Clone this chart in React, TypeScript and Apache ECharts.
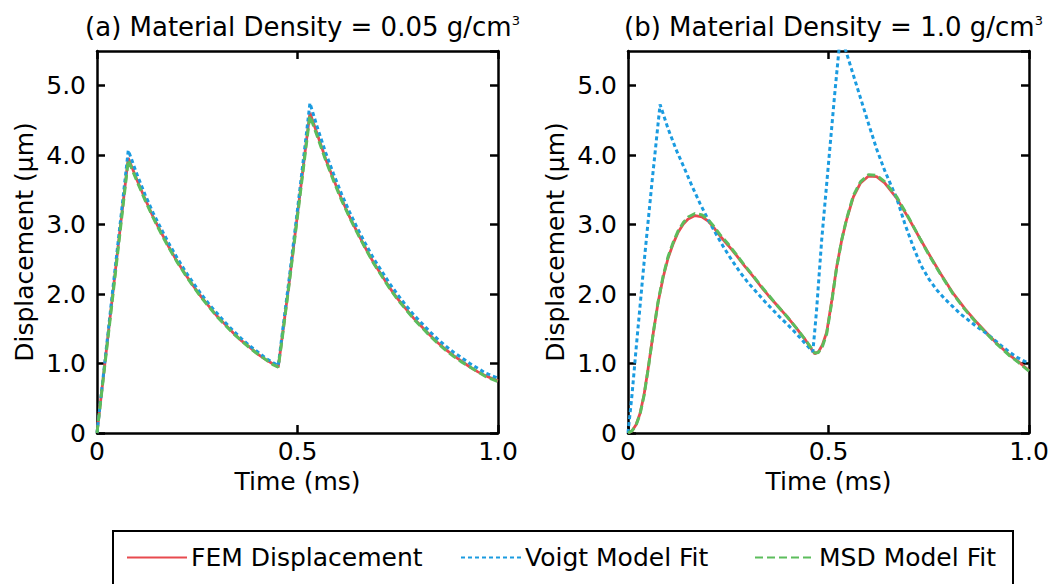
import React, { useEffect, useRef } from "react";
import * as echarts from "echarts";

// ---- data (time in ms, displacement in µm) ----
const femA: [number, number][] = [[0,0],[0.02,1.02],[0.04,2.04],[0.06,3.06],[0.078,3.96],[0.10,3.64],[0.12,3.37],[0.14,3.11],[0.16,2.89],[0.18,2.67],[0.20,2.47],[0.22,2.29],[0.24,2.12],[0.26,1.96],[0.28,1.82],[0.30,1.68],[0.32,1.56],[0.34,1.44],[0.36,1.33],[0.38,1.24],[0.40,1.14],[0.42,1.06],[0.44,0.99],[0.452,0.95],[0.46,1.30],[0.48,2.20],[0.50,3.15],[0.52,4.10],[0.531,4.61],[0.55,4.29],[0.57,3.95],[0.59,3.65],[0.61,3.37],[0.63,3.11],[0.65,2.88],[0.67,2.66],[0.69,2.45],[0.71,2.27],[0.73,2.09],[0.75,1.93],[0.77,1.79],[0.79,1.65],[0.81,1.53],[0.83,1.41],[0.85,1.30],[0.87,1.20],[0.89,1.11],[0.91,1.03],[0.93,0.95],[0.95,0.88],[0.97,0.82],[1.0,0.75]];
const voigtA: [number, number][] = [[0,0],[0.02,1.05],[0.04,2.10],[0.06,3.13],[0.078,4.07],[0.10,3.72],[0.12,3.43],[0.14,3.17],[0.16,2.94],[0.18,2.72],[0.20,2.52],[0.22,2.33],[0.24,2.16],[0.26,2.00],[0.28,1.85],[0.30,1.72],[0.32,1.59],[0.34,1.47],[0.36,1.36],[0.38,1.26],[0.40,1.17],[0.42,1.08],[0.44,1.01],[0.452,0.97],[0.46,1.34],[0.48,2.26],[0.50,3.22],[0.52,4.20],[0.531,4.75],[0.55,4.39],[0.57,4.04],[0.59,3.73],[0.61,3.44],[0.63,3.18],[0.65,2.94],[0.67,2.72],[0.69,2.51],[0.71,2.33],[0.73,2.15],[0.75,1.99],[0.77,1.84],[0.79,1.70],[0.81,1.58],[0.83,1.46],[0.85,1.35],[0.87,1.25],[0.89,1.16],[0.91,1.08],[0.93,1.00],[0.95,0.93],[0.97,0.86],[1.0,0.79]];
const msdA: [number, number][] = [[0,0],[0.02,1.0],[0.04,2.0],[0.06,3.02],[0.078,3.93],[0.10,3.62],[0.12,3.35],[0.14,3.10],[0.16,2.87],[0.18,2.66],[0.20,2.46],[0.22,2.28],[0.24,2.11],[0.26,1.95],[0.28,1.81],[0.30,1.67],[0.32,1.55],[0.34,1.43],[0.36,1.33],[0.38,1.23],[0.40,1.14],[0.42,1.06],[0.44,0.98],[0.452,0.95],[0.46,1.28],[0.48,2.18],[0.50,3.12],[0.52,4.06],[0.531,4.57],[0.55,4.26],[0.57,3.93],[0.59,3.63],[0.61,3.35],[0.63,3.10],[0.65,2.87],[0.67,2.65],[0.69,2.44],[0.71,2.26],[0.73,2.08],[0.75,1.92],[0.77,1.78],[0.79,1.64],[0.81,1.52],[0.83,1.40],[0.85,1.29],[0.87,1.19],[0.89,1.10],[0.91,1.02],[0.93,0.95],[0.95,0.88],[0.97,0.81],[1.0,0.74]];

const femB: [number, number][] = [[0,0],[0.01,0.03],[0.02,0.12],[0.03,0.28],[0.04,0.55],[0.05,0.92],[0.063,1.44],[0.075,1.88],[0.088,2.25],[0.10,2.52],[0.113,2.73],[0.125,2.89],[0.138,3.01],[0.15,3.08],[0.167,3.13],[0.185,3.11],[0.20,3.05],[0.215,2.95],[0.229,2.84],[0.25,2.70],[0.27,2.56],[0.29,2.41],[0.3125,2.25],[0.33,2.12],[0.35,1.98],[0.37,1.85],[0.396,1.68],[0.42,1.51],[0.44,1.36],[0.455,1.23],[0.466,1.14],[0.475,1.17],[0.485,1.27],[0.4955,1.45],[0.508,1.90],[0.52,2.38],[0.533,2.78],[0.545,3.07],[0.562,3.40],[0.58,3.60],[0.60,3.70],[0.62,3.69],[0.64,3.60],[0.67,3.38],[0.70,3.09],[0.728,2.80],[0.75,2.58],[0.78,2.29],[0.811,2.01],[0.84,1.79],[0.87,1.59],[0.8945,1.44],[0.92,1.29],[0.95,1.13],[0.975,1.02],[1.0,0.90]];
const voigtB: [number, number][] = [[0,0],[0.01,0.55],[0.02,1.2],[0.04,2.45],[0.06,3.62],[0.08,4.73],[0.10,4.38],[0.12,4.08],[0.14,3.82],[0.16,3.55],[0.18,3.30],[0.20,3.07],[0.22,2.86],[0.24,2.66],[0.26,2.48],[0.28,2.31],[0.30,2.16],[0.32,2.03],[0.34,1.90],[0.36,1.78],[0.38,1.66],[0.40,1.55],[0.42,1.43],[0.44,1.30],[0.461,1.17],[0.47,1.75],[0.483,2.78],[0.50,3.88],[0.515,4.85],[0.530,5.75],[0.545,5.47],[0.56,5.19],[0.58,4.82],[0.60,4.45],[0.62,4.09],[0.64,3.78],[0.67,3.38],[0.69,3.02],[0.71,2.70],[0.73,2.42],[0.75,2.22],[0.77,2.06],[0.79,1.93],[0.81,1.82],[0.83,1.71],[0.85,1.62],[0.87,1.53],[0.89,1.45],[0.91,1.36],[0.93,1.26],[0.95,1.17],[0.97,1.09],[1.0,1.0]];
const msdB: [number, number][] = [[0,0],[0.01,0.03],[0.02,0.11],[0.03,0.27],[0.04,0.54],[0.05,0.91],[0.063,1.44],[0.075,1.89],[0.088,2.27],[0.10,2.54],[0.113,2.75],[0.125,2.91],[0.138,3.03],[0.15,3.11],[0.167,3.16],[0.185,3.14],[0.20,3.07],[0.215,2.97],[0.229,2.86],[0.25,2.72],[0.27,2.57],[0.29,2.42],[0.3125,2.26],[0.33,2.13],[0.35,1.99],[0.37,1.85],[0.396,1.68],[0.42,1.51],[0.44,1.36],[0.455,1.24],[0.466,1.15],[0.475,1.16],[0.485,1.25],[0.4955,1.43],[0.508,1.88],[0.52,2.37],[0.533,2.78],[0.545,3.08],[0.562,3.42],[0.58,3.62],[0.60,3.72],[0.62,3.71],[0.64,3.62],[0.67,3.40],[0.70,3.10],[0.728,2.80],[0.75,2.57],[0.78,2.28],[0.811,2.00],[0.84,1.78],[0.87,1.58],[0.8945,1.43],[0.92,1.28],[0.95,1.12],[0.975,1.01],[1.0,0.89]];

const seriesNames = ["FEM Displacement", "Voigt Model Fit", "MSD Model Fit"];
const panelTitles = ["(a) Material Density = 0.05 g/cm", "(b) Material Density = 1.0 g/cm"];
const xTicks = { min: 0, max: 1, interval: 0.5 };
const yTicks = { min: 0, max: 5.5, interval: 1 };
const xName = "Time (ms)";
const yName = "Displacement (μm)";

const FONT = "DejaVu Sans";
const RED = "#e84a4f";
const BLUE = "#1a9be0";
const GREEN = "#5cbd5c";

export default function App() {
  const ref = useRef<HTMLDivElement>(null);
  useEffect(() => {
    if (!ref.current) return;
    const chart = echarts.init(ref.current, undefined, { renderer: "svg" });
    const grids = [
      { left: 97, top: 51, width: 401, height: 382 },
      { left: 628, top: 51, width: 401, height: 382 },
    ];
    const line = { lineStyle: { color: "#000", width: 2.5 } };
    const tick = { show: true, inside: true, length: 8, lineStyle: { color: "#000", width: 2.5 } };
    const xFmt = (v: number) => (v === 0 ? "0" : v.toFixed(1));
    const yFmt = (v: number) => (v === 0 ? "0" : Math.abs(v - Math.round(v)) < 1e-9 ? v.toFixed(1) : "");
    const xAxis: any[] = [];
    const yAxis: any[] = [];
    grids.forEach((_, g) => {
      xAxis.push({
        type: "value", gridIndex: g, position: "bottom", ...xTicks,
        axisLine: { ...line, onZero: false }, axisTick: tick, splitLine: { show: false },
        axisLabel: { formatter: xFmt, fontSize: 25, fontFamily: FONT, color: "#000", margin: 6 },
        name: xName, nameLocation: "middle", nameGap: 32,
        nameTextStyle: { fontSize: 25, fontFamily: FONT, color: "#000" },
      });
      xAxis.push({
        type: "value", gridIndex: g, position: "top", ...xTicks,
        axisLine: { ...line, onZero: false }, axisTick: tick, splitLine: { show: false },
        axisLabel: { show: false },
      });
      yAxis.push({
        type: "value", gridIndex: g, position: "left", ...yTicks,
        axisLine: { ...line, onZero: false }, axisTick: tick, splitLine: { show: false },
        axisLabel: { formatter: yFmt, fontSize: 25, fontFamily: FONT, color: "#000", margin: 11, showMaxLabel: false },
        name: yName, nameLocation: "middle", nameGap: 60,
        nameTextStyle: { fontSize: 25, fontFamily: FONT, color: "#000" },
      });
      yAxis.push({
        type: "value", gridIndex: g, position: "right", ...yTicks,
        axisLine: { ...line, onZero: false }, axisTick: tick, splitLine: { show: false },
        axisLabel: { show: false },
      });
    });
    const mk = (name: string, data: [number, number][], g: number, color: string, type: any, width: number, z: number) => ({
      name, type: "line", data, xAxisIndex: g * 2, yAxisIndex: g * 2,
      symbol: "none", showSymbol: false, smooth: false, clip: true, z,
      lineStyle: { color, width, type, cap: "butt" },
      itemStyle: { color },
    });
    const series = [
      mk(seriesNames[0], femA, 0, RED, "solid", 2.8, 2),
      mk(seriesNames[1], voigtA, 0, BLUE, [4, 3], 3, 3),
      mk(seriesNames[2], msdA, 0, GREEN, [8, 4], 3, 4),
      mk(seriesNames[0], femB, 1, RED, "solid", 2.8, 2),
      mk(seriesNames[1], voigtB, 1, BLUE, [4, 3], 3, 3),
      mk(seriesNames[2], msdB, 1, GREEN, [8, 4], 3, 4),
    ];
    const legendPos = [126, 460, 754];
    const legend = seriesNames.map((n, i) => ({
      data: [n], left: legendPos[i], top: 545, padding: 0,
      itemWidth: 60, itemHeight: 14, itemGap: 0,
      itemStyle: { opacity: 0, borderWidth: 0 },
      textStyle: { fontSize: 25, fontFamily: FONT, color: "#000", padding: [0, 0, 0, -1] },
      selectedMode: false,
    }));
    const titleCenters = [297.5, 828.5];
    const title = panelTitles.map((t, i) => ({
      text: `{a|${t}}{s|3}`,
      left: titleCenters[i], top: 9, textAlign: "center",
      textStyle: {
        fontWeight: "normal",
        rich: {
          a: { fontSize: 26, fontFamily: FONT, color: "#000", fontWeight: "normal" },
          s: { fontSize: 13, fontFamily: FONT, color: "#000", fontWeight: "normal", verticalAlign: "top" },
        },
      },
    }));
    chart.setOption({
      animation: false,
      backgroundColor: "#fff",
      title, legend, grid: grids, xAxis, yAxis, series,
      graphic: [
        { type: "rect", shape: { x: 113, y: 531, width: 900, height: 80 }, style: { fill: "none", stroke: "#000", lineWidth: 2 }, silent: true },
      ],
    });
    return () => chart.dispose();
  }, []);
  return <div ref={ref} style={{ position: "absolute", left: 0, top: 0, width: 1055, height: 584 }} />;
}
